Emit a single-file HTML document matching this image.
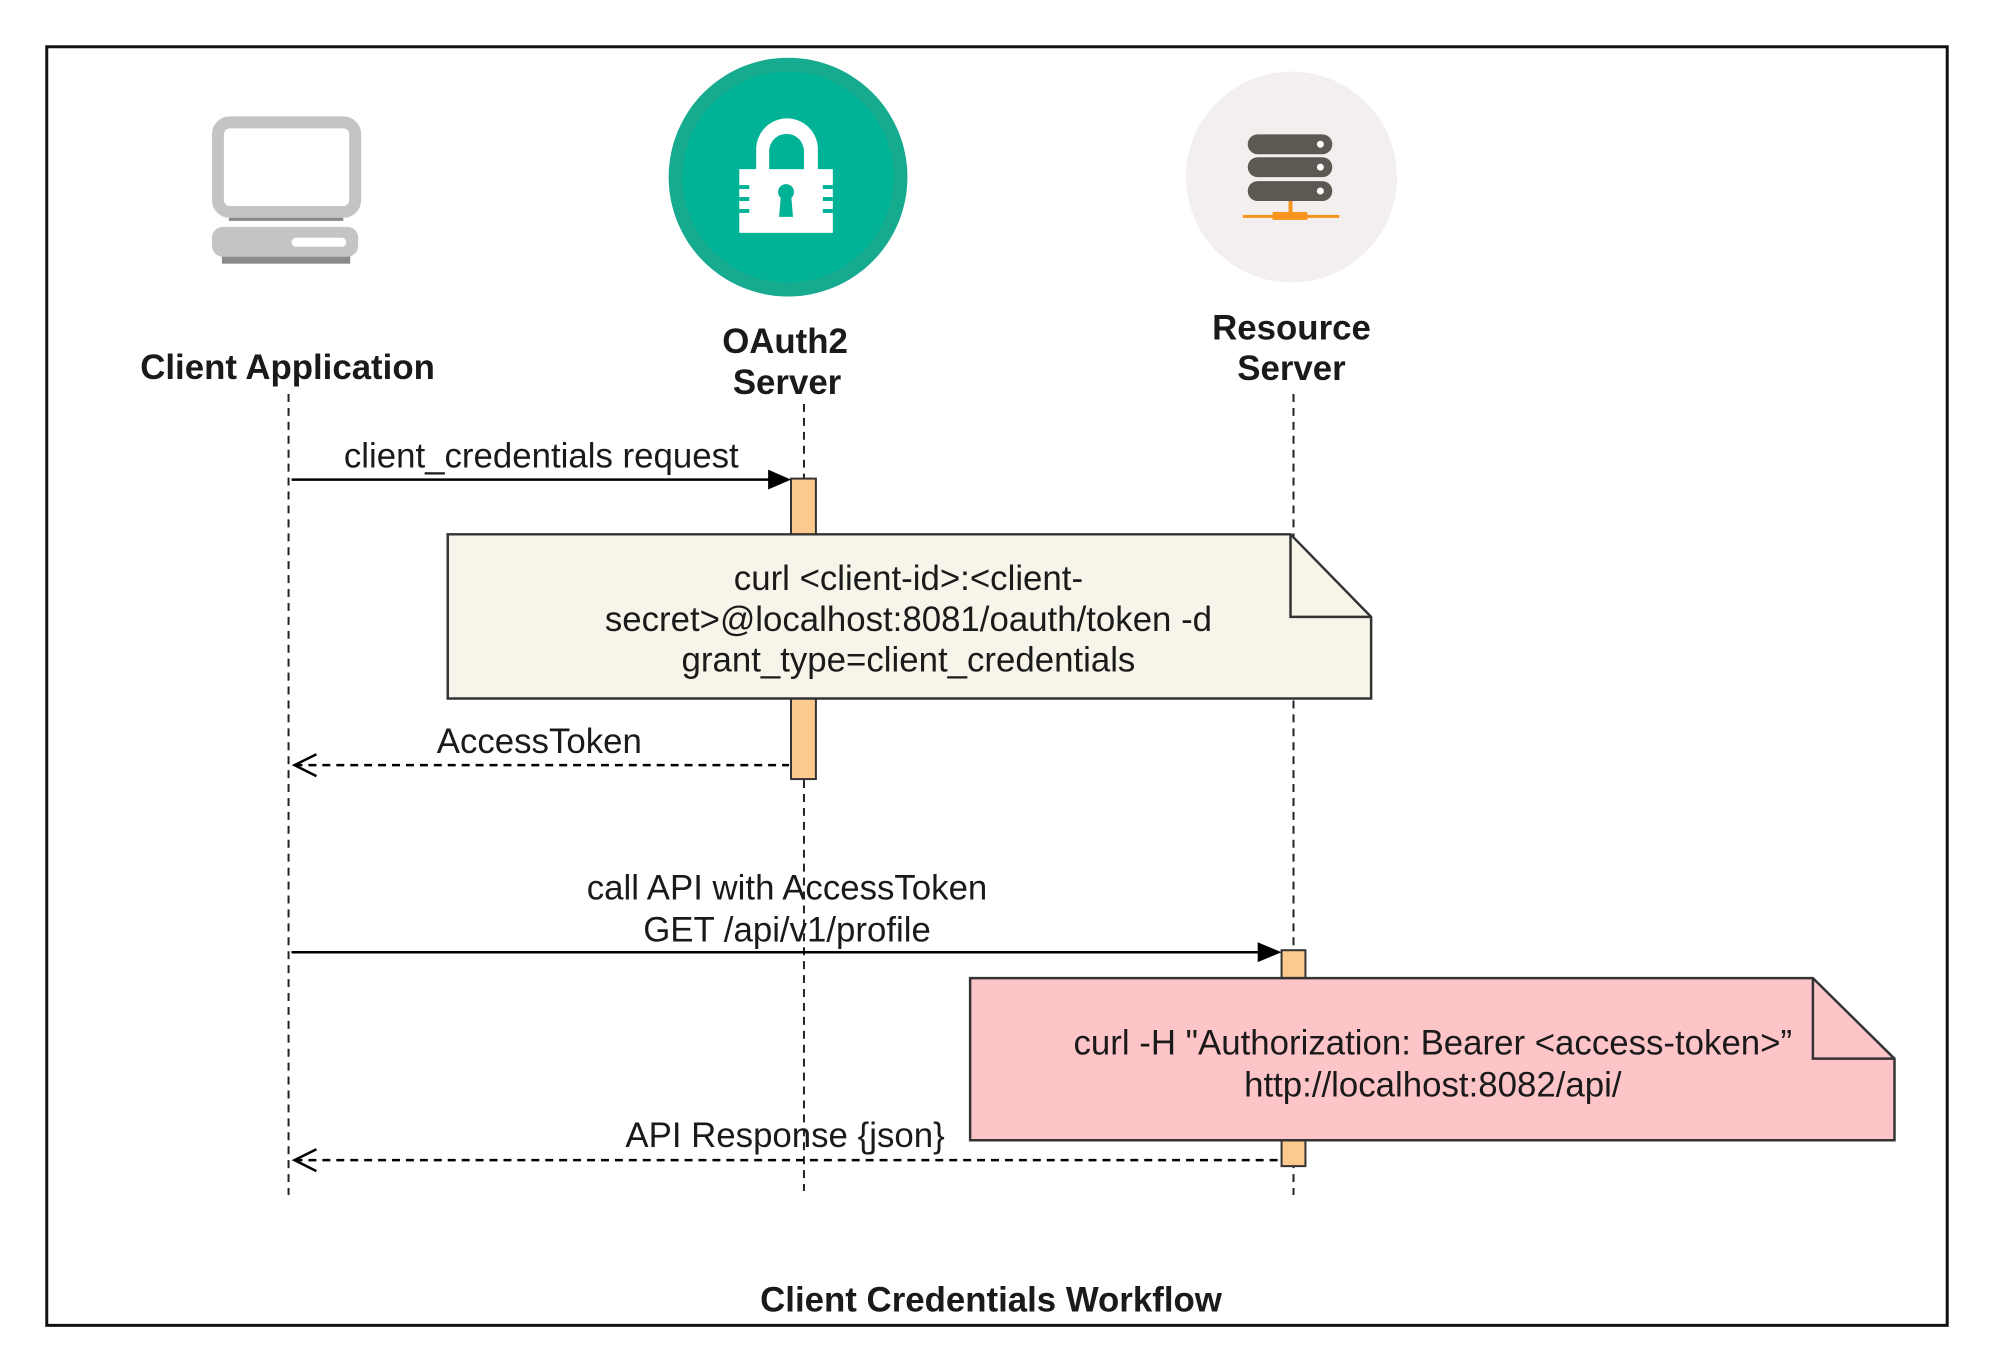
<!DOCTYPE html>
<html><head><meta charset="utf-8"><style>
html,body{margin:0;padding:0;background:#fff;}
svg{display:block;}
text{font-family:"Liberation Sans",Arial,sans-serif;fill:#1a1a1a;}
</style></head><body>
<svg width="1994" height="1372" viewBox="0 0 1994 1372" xmlns="http://www.w3.org/2000/svg">
<g transform="scale(0.995)">
<rect x="47" y="47" width="1910" height="1285" fill="#fff" stroke="#111" stroke-width="3"/>

<!-- Client icon -->
<rect x="230" y="212" width="115" height="10" fill="#8a8a8a"/>
<rect x="219" y="123" width="138" height="90" rx="12" fill="#fff" stroke="#c4c4c4" stroke-width="12"/>
<rect x="223" y="256" width="129" height="9" fill="#8a8a8a"/>
<rect x="213" y="228" width="147" height="30" rx="11" fill="#c4c4c4"/>
<rect x="293" y="239" width="55" height="9" rx="4.5" fill="#fff"/>

<!-- OAuth circle -->
<circle cx="792" cy="178" r="120" fill="#16ab8f"/>
<circle cx="792" cy="178" r="106" fill="#00b396"/>
<path d="M760,172 V150 a31,31 0 0 1 62,0 V172 H808 V152 a17,17 0 0 0 -35,0 V172 Z" fill="#fff"/>
<rect x="743" y="170" width="94" height="64" fill="#fff"/>
<g fill="#00b396">
<rect x="743" y="186" width="10" height="4"/><rect x="743" y="198" width="10" height="4"/><rect x="743" y="210" width="10" height="4"/>
<rect x="827" y="186" width="10" height="4"/><rect x="827" y="198" width="10" height="4"/><rect x="827" y="210" width="10" height="4"/>
<circle cx="790" cy="193" r="8"/><path d="M785,195 L795,195 L797,218 L783,218 Z"/>
</g>

<!-- Resource circle -->
<circle cx="1298" cy="178" r="106" fill="#f2efee"/>
<g transform="translate(6,0)">
<g fill="#5e5853">
<rect x="1248" y="135" width="85" height="20" rx="10"/>
<rect x="1248" y="158" width="85" height="20" rx="10"/>
<rect x="1248" y="182" width="85" height="20" rx="10"/>
</g>
<g fill="#fff"><circle cx="1321" cy="145" r="3.5"/><circle cx="1321" cy="168" r="3.5"/><circle cx="1321" cy="192" r="3.5"/></g>
<g fill="#f7941d">
<rect x="1289" y="202" width="4" height="14"/>
<rect x="1243" y="216" width="97" height="3"/>
<rect x="1273" y="213" width="35" height="8"/>
</g>
</g>

<!-- Labels -->
<g font-weight="bold" font-size="35" text-anchor="middle">
<text x="289" y="381">Client Application</text>
<text x="789" y="355">OAuth2</text>
<text x="791" y="396">Server</text>
<text x="1298" y="341">Resource</text>
<text x="1298" y="382">Server</text>
<text x="996" y="1318">Client Credentials Workflow</text>
</g>

<!-- Lifelines -->
<g stroke="#222" stroke-width="2" stroke-dasharray="8,6" fill="none">
<line x1="290" y1="396" x2="290" y2="1201"/>
<line x1="808" y1="406" x2="808" y2="1197"/>
<line x1="1300" y1="396" x2="1300" y2="1201"/>
</g>

<!-- Activation bars -->
<rect x="795" y="481" width="25" height="302" fill="#fcc98f" stroke="#333" stroke-width="2"/>
<rect x="1288" y="955" width="24" height="217" fill="#fcc98f" stroke="#333" stroke-width="2"/>

<!-- Arrow 1 -->
<line x1="293" y1="482" x2="775" y2="482" stroke="#000" stroke-width="2.5"/>
<path d="M772,472 L795,482 L772,492 Z" fill="#000"/>
<text x="544" y="470" font-size="35" text-anchor="middle">client_credentials request</text>

<!-- Note 1 -->
<path d="M450,537 H1297 L1378,620 V702 H450 Z" fill="#f7f4ea" stroke="#333" stroke-width="2.5"/>
<path d="M1297,537 V620 H1378" fill="none" stroke="#333" stroke-width="2.5"/>
<g font-size="35" text-anchor="middle">
<text x="913" y="593">curl &lt;client-id&gt;:&lt;client-</text>
<text x="913" y="634">secret&gt;@localhost:8081/oauth/token -d</text>
<text x="913" y="675">grant_type=client_credentials</text>
</g>

<!-- AccessToken return -->
<line x1="296" y1="769" x2="793" y2="769" stroke="#000" stroke-width="2.5" stroke-dasharray="8,6"/>
<path d="M318,758 L296,769 L318,780" fill="none" stroke="#000" stroke-width="2.5"/>
<text x="542" y="757" font-size="35" text-anchor="middle">AccessToken</text>

<!-- Arrow 3 -->
<line x1="293" y1="957" x2="1266" y2="957" stroke="#000" stroke-width="2.5"/>
<path d="M1264,947 L1288,957 L1264,967 Z" fill="#000"/>
<g font-size="35" text-anchor="middle">
<text x="791" y="904">call API with AccessToken</text>
<text x="791" y="946">GET /api/v1/profile</text>
</g>

<!-- Note 2 -->
<path d="M975,983 H1822 L1904,1064 V1146 H975 Z" fill="#fec5c8" stroke="#333" stroke-width="2.5"/>
<path d="M1822,983 V1064 H1904" fill="none" stroke="#333" stroke-width="2.5"/>
<g font-size="35" text-anchor="middle">
<text x="1440" y="1060">curl -H "Authorization: Bearer &lt;access-token&gt;”</text>
<text x="1440" y="1102">http://localhost:8082/api/</text>
</g>

<!-- API response -->
<line x1="296" y1="1166" x2="1288" y2="1166" stroke="#000" stroke-width="2.5" stroke-dasharray="8,6"/>
<path d="M318,1155 L296,1166 L318,1177" fill="none" stroke="#000" stroke-width="2.5"/>
<text x="789" y="1153" font-size="35" text-anchor="middle">API Response {json}</text>
</g>
</svg>
</body></html>
